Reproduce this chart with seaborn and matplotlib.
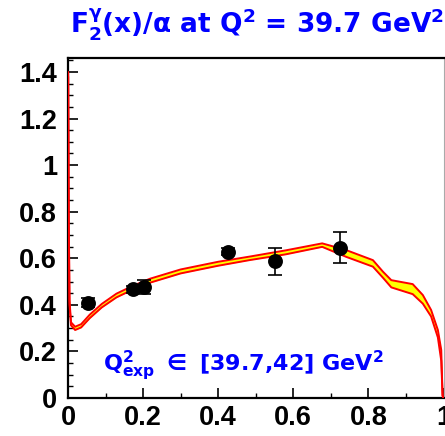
import numpy as np
import matplotlib
matplotlib.use("Agg")
import matplotlib.pyplot as plt
import seaborn as sns
from matplotlib.ticker import MultipleLocator, FormatStrFormatter

# measured points
data_x = [0.053, 0.172, 0.202, 0.426, 0.552, 0.725]
data_y = [0.41, 0.468, 0.478, 0.628, 0.588, 0.645]
data_err = [0.02, 0.015, 0.03, 0.015, 0.058, 0.067]

# theory band (lower / upper edge)
band_x = [0.0005, 0.002, 0.004, 0.008, 0.019, 0.035, 0.058, 0.09, 0.129, 0.173,
          0.218, 0.3, 0.4, 0.483, 0.58, 0.677, 0.741, 0.812, 0.839, 0.861,
          0.918, 0.945, 0.967, 0.985, 0.994, 0.9975, 1.0]
band_lo = [1.38, 0.75, 0.40, 0.312, 0.292, 0.303, 0.343, 0.389, 0.432, 0.466,
           0.495, 0.535, 0.568, 0.592, 0.617, 0.649, 0.606, 0.564, 0.516, 0.475,
           0.446, 0.405, 0.35, 0.26, 0.16, 0.01, 0.0]
band_hi = [1.40, 0.78, 0.42, 0.325, 0.306, 0.317, 0.358, 0.404, 0.448, 0.482,
           0.512, 0.552, 0.585, 0.607, 0.634, 0.664, 0.635, 0.592, 0.542, 0.506,
           0.489, 0.442, 0.378, 0.292, 0.206, 0.01, 0.0]

sns.set_style("ticks")
plt.rcParams['font.family'] = ['Liberation Sans', 'DejaVu Sans']
plt.rcParams['font.weight'] = 'bold'
plt.rcParams['text.color'] = 'black'
plt.rcParams['xtick.color'] = 'black'
plt.rcParams['ytick.color'] = 'black'
plt.rcParams['mathtext.fontset'] = 'custom'
plt.rcParams['mathtext.rm'] = 'DejaVu Sans:bold'
plt.rcParams['mathtext.it'] = 'DejaVu Sans:bold'
plt.rcParams['mathtext.bf'] = 'DejaVu Sans:bold'
plt.rcParams['mathtext.sf'] = 'DejaVu Sans:bold'
plt.rcParams['mathtext.fallback'] = 'stixsans'

fig = plt.figure(figsize=(4.45, 4.36), dpi=100)
ax = fig.add_axes([68 / 445, 38 / 436, 375.5 / 445, 340 / 436])

ax.fill_between(band_x, band_lo, band_hi, color='#ffff00', lw=0, zorder=2)
sns.lineplot(x=band_x, y=band_lo, color='#ff0000', lw=1.4, ax=ax, sort=False, zorder=3)
sns.lineplot(x=band_x, y=band_hi, color='#ff0000', lw=1.4, ax=ax, sort=False, zorder=3)

ax.errorbar(data_x, data_y, yerr=data_err, fmt='none', ecolor='black',
            elinewidth=1.2, capsize=5, capthick=1.2, zorder=4)
sns.scatterplot(x=data_x, y=data_y, color='black', s=115, edgecolor='black',
                linewidth=0, ax=ax, zorder=5)

ax.set_xlim(0, 1)
ax.set_ylim(0, 1.46)
ax.xaxis.set_major_locator(MultipleLocator(0.2))
ax.xaxis.set_minor_locator(MultipleLocator(0.1))
ax.yaxis.set_major_locator(MultipleLocator(0.2))
ax.yaxis.set_minor_locator(MultipleLocator(0.05))
ax.xaxis.set_major_formatter(FormatStrFormatter('%g'))
ax.yaxis.set_major_formatter(FormatStrFormatter('%g'))
ax.tick_params(which='major', direction='in', length=7, width=1.2,
               labelsize=19.5, labelcolor='black', top=False, right=False)
ax.tick_params(which='minor', direction='in', length=3.5, width=1.0,
               top=False, right=False)
ax.tick_params(axis='y', which='major', pad=8)
ax.tick_params(axis='x', which='major', pad=5)
for lab in ax.get_xticklabels() + ax.get_yticklabels():
    lab.set_fontweight('bold')
    lab.set_family(['Liberation Sans', 'DejaVu Sans'])

for s in ['left', 'bottom', 'top']:
    ax.spines[s].set_linewidth(1.6)
    ax.spines[s].set_color('black')
ax.spines['right'].set_linewidth(0.8)
ax.spines['right'].set_color('#aaaaaa')

title = r'F$_\mathbf{2}^{\gamma}$(x)/$\alpha$ at Q$^\mathbf{2}$ = 39.7 GeV$^\mathbf{2}$'
fig.text(70 / 445, 1 - 33 / 436, title, family='DejaVu Sans', fontweight='bold',
         color='#0000ff', fontsize=19, ha='left', va='baseline')
note = r'Q$^\mathbf{2}_\mathbf{exp}$ $\in$ [39.7,42] GeV$^\mathbf{2}$'
ax.text(0.093, 0.08, note, family='DejaVu Sans', fontweight='bold',
        transform=ax.transAxes, color='#0000ff', fontsize=16,
        ha='left', va='baseline')

ax.set_xlabel('')
ax.set_ylabel('')
fig.savefig('out.png', dpi=100)
